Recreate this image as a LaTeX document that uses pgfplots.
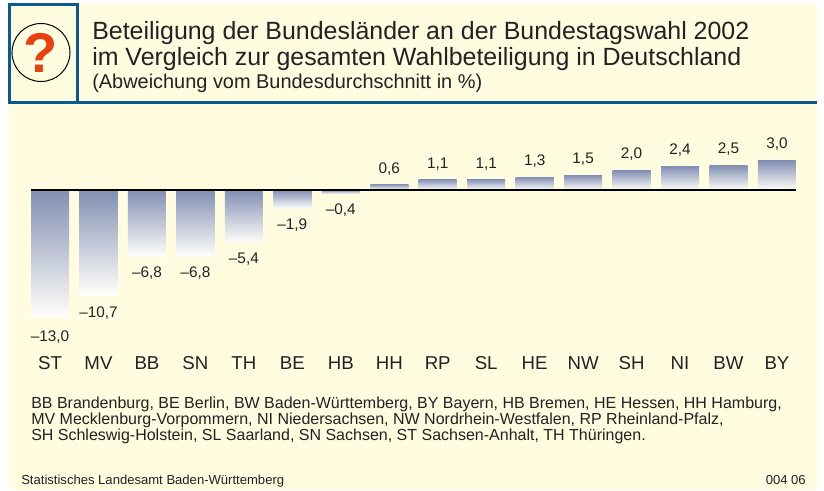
\documentclass[border=0pt]{standalone}
\usepackage{pgfplots}
\pgfplotsset{compat=1.18}
\usepackage{fontspec}
\setmainfont{Liberation Sans}
\definecolor{bgc}{HTML}{FFFCE0}
\definecolor{boxblue}{HTML}{0B5A8F}
\definecolor{barc}{HTML}{828FB3}
\definecolor{qm}{HTML}{E8400F}
\definecolor{txt}{HTML}{222222}
\newcommand{\fs}[1]{\fontsize{#1}{#1}\selectfont}
\pgfplotsset{
  mybar/.style={ybar,bar width=28.5pt,draw=none,top color=barc,bottom color=white!85!bgc,
    point meta=explicit symbolic,nodes near coords,
    every node near coord/.append style={font=\fs{11.5},text=txt,inner sep=0pt,anchor=#1}},
  neg/.style={mybar=north,every node near coord/.append style={yshift=-7.5pt}},
  pos/.style={mybar=south,every node near coord/.append style={yshift=7.5pt}},
}
\begin{document}
\begin{tikzpicture}[x=0.75pt,y=-0.75pt]
\path[fill=white] (0,0) rectangle (824,490);
\path[fill=bgc] (9,3) rectangle (817,490);
\draw[boxblue,line width=2.25pt] (817,102) -- (9,102) -- (9,4) -- (77,4) -- (77,102);
\draw[black,line width=0.75pt] (41,52.5) circle (29);
\node[text=qm,font=\fs{42}\bfseries] at (41,53) {?};
\node[anchor=base west,text=txt,font=\fs{18.7},inner sep=0] at (92,39) {Beteiligung der Bundesländer an der Bundestagswahl 2002};
\node[anchor=base west,text=txt,font=\fs{18.7},inner sep=0] at (92,65) {im Vergleich zur gesamten Wahlbeteiligung in Deutschland};
\node[anchor=base west,text=txt,font=\fs{14.95},inner sep=0] at (92,88) {(Abweichung vom Bundesdurchschnitt in \%)};
\coordinate (ax) at (31,350);
\begin{axis}[
  at={(ax)},anchor=south west,
  scale only axis,width=573.75pt,height=150pt,
  xmin=-0.3926,xmax=15.3926,ymin=-16.3,ymax=4.07,
  clip=false,
  axis line style={draw=none},
  major tick length=0pt,
  ytick=\empty,
  xtick={0,...,15},
  xticklabels={ST,MV,BB,SN,TH,BE,HB,HH,RP,SL,HE,NW,SH,NI,BW,BY},
  xticklabel style={font=\fs{14},text=txt,inner sep=0pt,text height=10pt,text depth=0pt,yshift=-4.6pt},
]
\addplot[neg,every node near coord/.append style={yshift=-2pt}] coordinates {(0,-13.0) [–13,0]};
\addplot[neg,every node near coord/.append style={yshift=-1.5pt}] coordinates {(1,-10.7) [–10,7]};
\addplot[neg] coordinates {(2,-6.8) [–6,8]};
\addplot[neg] coordinates {(3,-6.8) [–6,8]};
\addplot[neg] coordinates {(4,-5.4) [–5,4]};
\addplot[neg] coordinates {(5,-1.9) [–1,9]};
\addplot[neg] coordinates {(6,-0.4) [–0,4]};
\addplot[pos,every node near coord/.append style={yshift=-1.2pt}] coordinates {(7,0.6) [0,6]};
\addplot[pos,every node near coord/.append style={yshift=-1.2pt}] coordinates {(8,1.1) [1,1]};
\addplot[pos,every node near coord/.append style={yshift=-1.2pt}] coordinates {(9,1.1) [1,1]};
\addplot[pos,every node near coord/.append style={yshift=-0.6pt}] coordinates {(10,1.3) [1,3]};
\addplot[pos] coordinates {(11,1.5) [1,5]};
\addplot[pos] coordinates {(12,2.0) [2,0]};
\addplot[pos] coordinates {(13,2.4) [2,4]};
\addplot[pos] coordinates {(14,2.5) [2,5]};
\addplot[pos] coordinates {(15,3.0) [3,0]};
\addplot[sharp plot,black,line width=1pt] coordinates {(-0.3926,0) (15.3926,0)};
\end{axis}
\node[anchor=base west,text=txt,font=\fs{12},inner sep=0] at (31,408) {BB Brandenburg, BE Berlin, BW Baden-Württemberg, BY Bayern, HB Bremen, HE Hessen, HH Hamburg,};
\node[anchor=base west,text=txt,font=\fs{12},inner sep=0] at (31,424) {MV Mecklenburg-Vorpommern, NI Niedersachsen, NW Nordrhein-Westfalen, RP Rheinland-Pfalz,};
\node[anchor=base west,text=txt,font=\fs{12},inner sep=0] at (31,440) {SH Schleswig-Holstein, SL Saarland, SN Sachsen, ST Sachsen-Anhalt, TH Thüringen.};
\node[anchor=base west,text=txt,font=\fs{9.8},inner sep=0] at (21,484) {Statistisches Landesamt Baden-Württemberg};
\node[anchor=base east,text=txt,font=\fs{9.8},inner sep=0] at (806,484) {004 06};
\end{tikzpicture}
\end{document}
